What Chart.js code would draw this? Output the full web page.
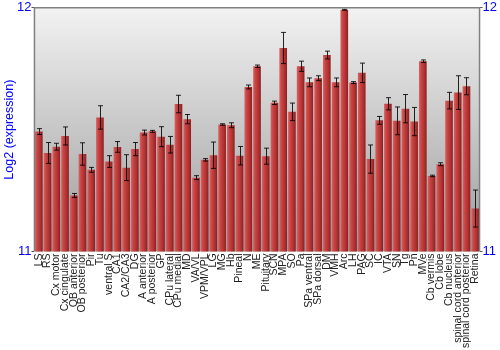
<!DOCTYPE html>
<html>
<head>
<meta charset="utf-8">
<script src="https://cdn.jsdelivr.net/npm/chart.js@4"></script>
<style>
  html, body { margin: 0; padding: 0; background: #fff; }
  #wrap { width: 500px; height: 350px; }
</style>
</head>
<body>
<div id="wrap"><canvas id="exprChart" width="500" height="350"></canvas></div>
<script>
const categories = ["LS", "RS", "Cx motor", "Cx cingulate", "OB anterior", "OB posterior", "Pir", "Tu",
  "ventral S", "CA1", "CA2/CA3", "DG", "A anterior", "A posterior", "GP", "CPu lateral", "CPu medial",
  "MD", "VA/VL", "VPM/VPL", "LG", "MG", "Hb", "Pineal", "N", "ME", "Pituitary", "SCN", "MPA", "SO",
  "Pa", "SPa ventral", "SPa dorsal", "DM", "VMH", "Arc", "LH", "PAG", "SC", "IC", "VTA", "SN", "Tg",
  "Pn", "MVe", "Cb vermis", "Cb lobe", "Cb nucleus", "spinal cord anterior", "spinal cord posterior", "Retina"];
const values = [11.492, 11.404, 11.430, 11.474, 11.230, 11.400, 11.335, 11.550,
  11.369, 11.429, 11.344, 11.420, 11.488, 11.493, 11.471, 11.438, 11.605,
  11.543, 11.303, 11.376, 11.395, 11.521, 11.518, 11.393, 11.675, 11.760, 11.391, 11.610, 11.835, 11.573,
  11.760, 11.694, 11.711, 11.806, 11.694, 11.992, 11.693, 11.733, 11.379, 11.538, 11.606, 11.536, 11.586,
  11.533, 11.781, 11.310, 11.358, 11.619, 11.652, 11.678, 11.176];
const errors = [0.012, 0.043, 0.014, 0.037, 0.008, 0.046, 0.010, 0.048,
  0.024, 0.022, 0.053, 0.027, 0.010, 0.004, 0.041, 0.034, 0.036,
  0.019, 0.008, 0.005, 0.054, 0.003, 0.010, 0.038, 0.008, 0.005, 0.033, 0.007, 0.064, 0.036,
  0.021, 0.018, 0.010, 0.016, 0.018, 0.002, 0.004, 0.040, 0.058, 0.016, 0.025, 0.057, 0.058,
  0.058, 0.005, 0.003, 0.006, 0.034, 0.069, 0.035, 0.076];
const yTicks = [11, 12];

const blue = "#0000ff";
const barFrac = 0.88;

// grey gradient behind the bars and the frame round the plot
const plotBox = {
  id: "plotBox",
  beforeDatasetsDraw(chart) {
    const a = chart.chartArea, c = chart.ctx;
    const g = c.createLinearGradient(0, a.top, 0, a.bottom);
    g.addColorStop(0, "#f2f2f2");
    g.addColorStop(1, "#9c9c9c");
    c.save();
    c.fillStyle = g;
    c.fillRect(a.left, a.top, a.right - a.left, a.bottom - a.top);
    c.restore();
  },
  afterDraw(chart) {
    const a = chart.chartArea, c = chart.ctx;
    c.save();
    c.strokeStyle = "#808080";
    c.lineWidth = 1.5;
    c.beginPath();
    c.moveTo(a.left, a.bottom);
    c.lineTo(a.left, a.top);
    c.lineTo(a.right, a.top);
    c.lineTo(a.right, a.bottom);
    c.stroke();
    c.restore();
  }
};

const errorBars = {
  id: "errorBars",
  afterDatasetsDraw(chart) {
    const c = chart.ctx, ys = chart.scales.y;
    const bars = chart.getDatasetMeta(0).data;
    c.save();
    c.strokeStyle = "rgba(0,0,0,0.85)";
    c.lineWidth = 1;
    bars.forEach((bar, i) => {
      const x = Math.round(bar.x) + 0.5;
      const hi = ys.getPixelForValue(values[i] + errors[i]);
      const lo = ys.getPixelForValue(values[i] - errors[i]);
      c.beginPath();
      c.moveTo(x, hi); c.lineTo(x, lo);
      c.moveTo(x - 2.5, hi); c.lineTo(x + 2.5, hi);
      c.moveTo(x - 2.5, lo); c.lineTo(x + 2.5, lo);
      c.stroke();
    });
    c.restore();
  }
};

function barFill(ctx) {
  const chart = ctx.chart, xs = chart.scales.x;
  if (!xs || ctx.type !== "data") return "#b83232";
  const cx = xs.getPixelForValue(ctx.dataIndex);
  const w = xs.width / categories.length * barFrac;
  if (!isFinite(cx) || !isFinite(w) || w <= 0) return "#b83232";
  const g = chart.ctx.createLinearGradient(cx - w / 2, 0, cx + w / 2, 0);
  g.addColorStop(0, "#d86464");
  g.addColorStop(0.3, "#c84444");
  g.addColorStop(0.7, "#b03030");
  g.addColorStop(1, "#882020");
  return g;
}

const ctx = document.getElementById("exprChart").getContext("2d");
const exprChart = new Chart(ctx, {
  type: "bar",
  data: {
    labels: categories,
    datasets: [{
      data: values,
      backgroundColor: barFill,
      borderWidth: 0,
      categoryPercentage: 1,
      barPercentage: barFrac
    }]
  },
  options: {
    responsive: false,
    animation: false,
    layout: { padding: { left: 2, top: 4, right: 3, bottom: 0 } },
    plugins: { legend: { display: false }, tooltip: { enabled: false } },
    scales: {
      x: {
        grid: { display: false, drawTicks: false },
        border: { display: false },
        ticks: {
          autoSkip: false, maxRotation: 90, minRotation: 90, padding: 2,
          color: "#222", font: { family: "'Liberation Sans', Arial, sans-serif", size: 10.5 }
        }
      },
      y: {
        position: "left",
        min: 11, max: 12,
        afterBuildTicks(axis) { axis.ticks = yTicks.map(v => ({ value: v })); },
        grid: { drawOnChartArea: false, tickLength: 3, color: "#555" },
        border: { display: false },
        ticks: { padding: 0, color: blue, font: { family: "'Liberation Sans', Arial, sans-serif", size: 13 } },
        title: {
          display: true, text: "Log2 (expression)", color: blue, padding: 0,
          font: { family: "'Liberation Sans', Arial, sans-serif", size: 12.5 }
        }
      },
      y2: {
        position: "right",
        min: 11, max: 12,
        afterBuildTicks(axis) { axis.ticks = yTicks.map(v => ({ value: v })); },
        grid: { drawOnChartArea: false, tickLength: 3, color: "#555" },
        border: { display: false },
        ticks: { padding: 0, color: blue, font: { family: "'Liberation Sans', Arial, sans-serif", size: 13 } }
      }
    }
  },
  plugins: [plotBox, errorBars]
});
</script>
</body>
</html>
